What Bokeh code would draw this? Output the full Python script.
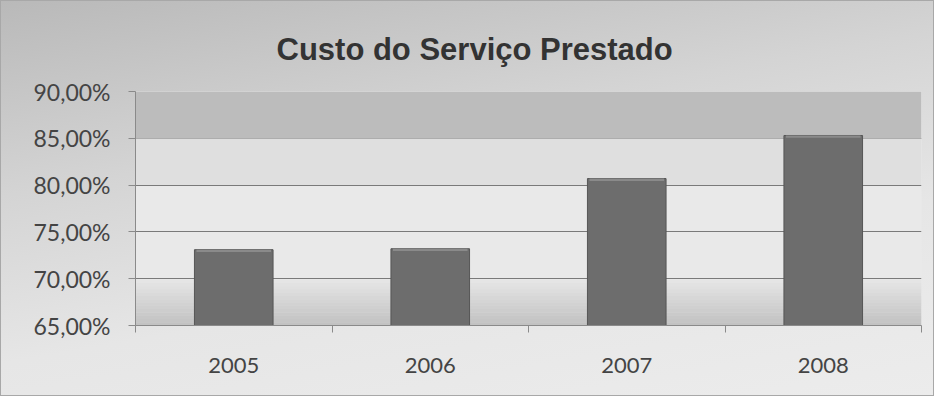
from bokeh.plotting import figure
from bokeh.models import FixedTicker, BoxAnnotation, ColumnDataSource
from bokeh.embed import file_html
from bokeh.resources import INLINE

# ---- data ----
years = ["2005", "2006", "2007", "2008"]
custo = [73.1, 73.2, 80.7, 85.3]          # % values
y_ticks = [65, 70, 75, 80, 85, 90]
y_tick_labels = ["65,00%", "70,00%", "75,00%", "80,00%", "85,00%", "90,00%"]
title_text = "Custo do Serviço Prestado"

x_pos = [i + 0.5 for i in range(len(years))]
src = ColumnDataSource(dict(x=x_pos, top=custo, year=years,
                            bevel=[v - 0.25 for v in custo]))

p = figure(width=934, height=396, output_backend="svg", toolbar_location=None,
           x_range=(0, len(years)), y_range=(y_ticks[0], y_ticks[-1]),
           min_border_left=134, min_border_right=14, min_border_top=90,
           min_border_bottom=72)

# backgrounds
p.border_fill_alpha = 0
p.styles = {"background-image":
            "linear-gradient(170deg, #b9b9b9 0%, #d4d4d4 35%, #e6e6e6 65%, #ececec 100%)",
            "border": "1px solid #a8a8a8"}
p.background_fill_color = "#e9e9e9"
p.outline_line_color = None

# top darker band and bottom gradient
p.add_layout(BoxAnnotation(bottom=y_ticks[-2], top=y_ticks[-1], fill_color="#bcbcbc",
                           fill_alpha=1, line_color=None, level="underlay"))
p.add_layout(BoxAnnotation(bottom=y_ticks[-3], top=y_ticks[-2], fill_color="#d8d8d8",
                           fill_alpha=0.6, line_color=None, level="underlay"))
steps = 14
for i in range(steps):
    b = y_ticks[0] + i * 0.35
    p.add_layout(BoxAnnotation(bottom=b, top=b + 0.35, fill_color="#a8a8a8",
                               fill_alpha=0.6 * (1 - i / steps), line_color=None,
                               level="underlay"))

# bars
p.vbar(x="x", top="top", bottom=y_ticks[0], width=0.4, source=src,
       fill_color="#6d6d6d", line_color="#555555", line_width=1)
# light bevel on top of each bar
p.vbar(x="x", top="top", bottom="bevel", width=0.38, source=src,
       fill_color="#8a8a8a", line_color=None)

# grid
p.xgrid.visible = False
p.ygrid.ticker = FixedTicker(ticks=y_ticks)
p.ygrid.grid_line_color = "#7a7a7a"
p.ygrid.grid_line_width = 1

# y axis
p.yaxis.ticker = FixedTicker(ticks=y_ticks)
p.yaxis.major_label_overrides = {t: l for t, l in zip(y_ticks, y_tick_labels)}
p.yaxis.axis_line_color = "#8a8a8a"
p.yaxis.major_tick_line_color = "#8a8a8a"
p.yaxis.major_tick_out = 7
p.yaxis.major_tick_in = 0
p.yaxis.minor_tick_line_color = None
p.yaxis.major_label_standoff = 18
p.yaxis.major_label_text_font = "Lato"
p.yaxis.major_label_text_font_size = "23px"
p.yaxis.major_label_text_color = "#444444"

# x axis
p.xaxis.ticker = FixedTicker(ticks=x_pos, minor_ticks=list(range(len(years) + 1)))
p.xaxis.major_label_overrides = {x: y for x, y in zip(x_pos, years)}
p.xaxis.axis_line_color = "#8a8a8a"
p.xaxis.major_tick_line_color = None
p.xaxis.minor_tick_line_color = "#8a8a8a"
p.xaxis.minor_tick_out = 7
p.xaxis.minor_tick_in = 0
p.xaxis.major_label_standoff = 25
p.xaxis.major_label_text_font = "Lato"
p.xaxis.major_label_text_font_size = "22px"
p.xaxis.major_label_text_color = "#444444"

# title
p.title.text = title_text
p.title.text_font = "Liberation Sans"
p.title.text_font_size = "31px"
p.title.text_font_style = "bold"
p.title.text_color = "#333333"
p.title.align = "left"
p.title.offset = 141
p.title.standoff = 50

open("out.html", "w").write(file_html(p, INLINE))
